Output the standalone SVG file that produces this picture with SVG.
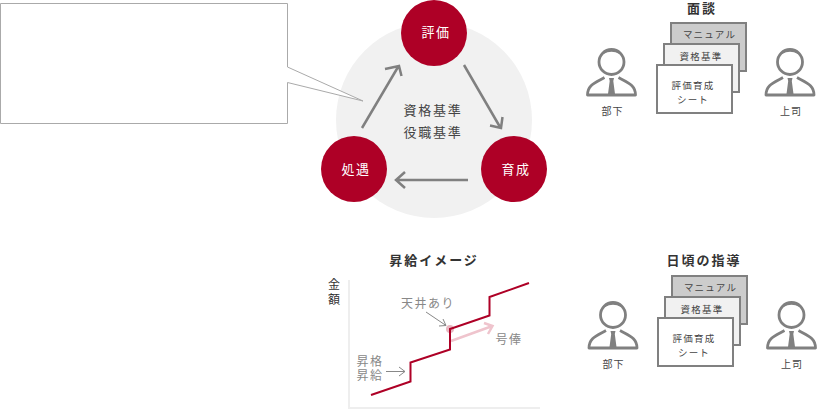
<svg xmlns="http://www.w3.org/2000/svg" width="820" height="420" viewBox="0 0 820 420">
<style>
text{font-family:"Noto Sans CJK JP","Noto Sans",sans-serif;text-anchor:middle}
.title{font-size:13px;font-weight:700;fill:#333;letter-spacing:2px}
.small{font-size:10px;fill:#444;letter-spacing:1px}
.axis{font-size:12px;fill:#333}
.doc{font-size:9.500px;fill:#444;letter-spacing:1.200px}
.node{font-size:13px;fill:#fff;letter-spacing:1.500px}
.center{font-size:13px;fill:#444;letter-spacing:1.750px}
.note{font-size:12px;fill:#888;letter-spacing:1.500px}
.sheet{stroke:#808080;stroke-width:2}
.arrow{fill:none;stroke:#808080;stroke-width:2.500}
.thin{fill:none;stroke:#888;stroke-width:1}
.person{fill:none;stroke:#808080;stroke-width:2.800}
</style>
<defs>
<g id="person">
<circle cx="0" cy="0" r="12.500" class="person"/>
<path d="M-9 -9.500 Q0 -15.500 9 -9.500 L8 -8 Q0 -12.500 -8 -8Z" fill="#808080"/>
<path d="M-7 15.500 C-17 21 -24 23 -24 33 H24 C24 23 17 21 7 15.500" class="person" stroke-linejoin="round"/>
<path d="M-2.500 16 H2.500 L1.800 19 L3.500 32 H-3.500 L-1.800 19Z" fill="#808080"/>
</g>
<g id="stack">
<rect x="671" y="23" width="75" height="48" fill="#ccc" class="sheet"/>
<rect x="664" y="44" width="75" height="48" fill="#f1f1f1" class="sheet"/>
<rect x="657" y="65" width="75" height="48" fill="#fff" class="sheet"/>
<text x="709.500" y="38" class="doc">マニュアル</text>
<text x="701" y="60" class="doc">資格基準</text>
<text x="693" y="89" class="doc">評価育成</text>
<text x="693" y="103" class="doc">シート</text>
</g>
</defs>

<g id="cycle-background"><circle cx="434" cy="120" r="98" fill="#f1f1f1"/></g>
<g id="callout"><path d="M0.500 3.500H287.500V67L363 101L287.500 82.500V123.500H0.500Z" fill="#fff" stroke="#aaa"/></g>

<g id="connectors">
<g class="arrow">
<path d="M362 128L398 67M385 69L399 66L401.500 76"/>
<path d="M464 65L500 127M490 125.500L501 128L502.500 117"/>
<path d="M468 180H397M405 172L396 180L405 188"/>
</g>
</g>

<g id="node-hyoka"><circle cx="434" cy="33" r="33" fill="#ae0026"/><text x="436" y="37" class="node">評価</text></g>
<g id="node-ikusei"><circle cx="514" cy="169" r="33" fill="#ae0026"/><text x="516" y="174" class="node">育成</text></g>
<g id="node-shogu"><circle cx="354" cy="169" r="33" fill="#ae0026"/><text x="356" y="174" class="node">処遇</text></g>
<g id="center-label"><text x="433" y="114.500" class="center">資格基準</text><text x="433" y="137" class="center">役職基準</text></g>

<g id="mendan">
<text x="702" y="12.500" class="title">面談</text>
<use href="#stack"/>
<use href="#person" x="611.500" y="62"/>
<use href="#person" x="790" y="62"/>
<text x="612.500" y="115" class="small">部下</text>
<text x="791" y="115" class="small">上司</text>
</g>

<g id="shokyu-chart">
<text x="434" y="265" class="title">昇給イメージ</text>
<text x="334" y="289" class="axis">金</text>
<text x="334" y="303.500" class="axis">額</text>
<path d="M349 280V408H540" fill="none" stroke="#eee" stroke-width="2"/>
<circle cx="450" cy="329" r="4" fill="#e8b8c2"/>
<path d="M451 341L491 326.500M484 323L492.500 326L488 334" fill="none" stroke="#efc4cd" stroke-width="2.500"/>
<path d="M371 395L410.500 381.500V362.500L450 349.500V329L489.500 315.500V297L529 283" fill="none" stroke="#ae0026" stroke-width="2"/>
<path d="M426 312L446 325.500M439 326L446 325.500L443 319" class="thin"/>
<path d="M386 371.500H405M399 367L405 371.500L399 376" class="thin"/>
<text x="428" y="308" class="note">天井あり</text>
<text x="370" y="366" class="note">昇格</text>
<text x="370" y="380" class="note">昇給</text>
<text x="509" y="344" class="note">号俸</text>
</g>

<g id="shido">
<text x="704" y="265" class="title">日頃の指導</text>
<use href="#stack" x="1" y="253"/>
<use href="#person" x="613" y="315"/>
<use href="#person" x="791.500" y="315"/>
<text x="613.500" y="368" class="small">部下</text>
<text x="792" y="368" class="small">上司</text>
</g>
</svg>
